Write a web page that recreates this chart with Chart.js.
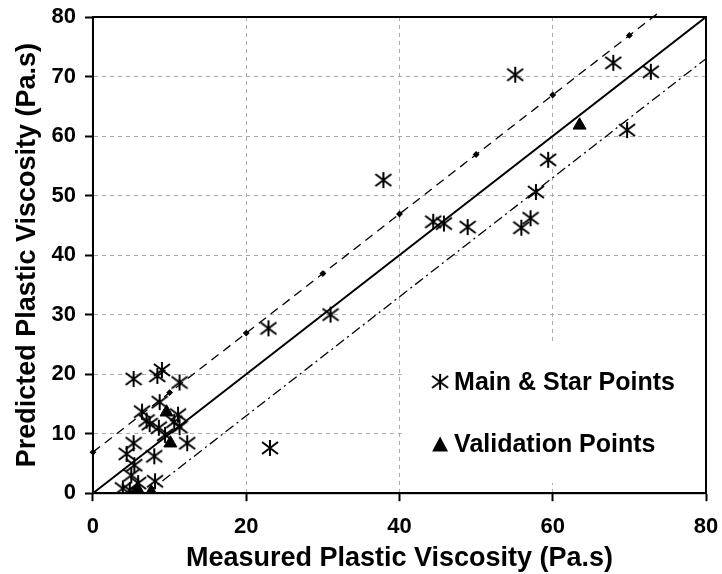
<!DOCTYPE html>
<html>
<head>
<meta charset="utf-8">
<script src="https://cdn.jsdelivr.net/npm/chart.js@4.4.0/dist/chart.umd.min.js"></script>
<style>
html, body { margin: 0; padding: 0; background: #fff; }
#wrap { width: 722px; height: 574px; }
</style>
</head>
<body>
<div id="wrap"><canvas id="testchart"></canvas></div>
<script>
// Main & star points (measured, predicted)
const mainX = [5.3, 8.4, 9.0, 11.3, 8.7, 6.4, 7.0, 7.4, 8.6, 11.1, 11.3, 10.6, 9.4, 12.3, 5.3, 4.4, 8.0, 5.4, 5.0, 8.1, 3.9, 5.9, 4.8,
               23.1, 22.9, 31.0, 37.9, 44.4, 45.8, 48.9, 55.9, 57.1, 57.8, 59.4, 55.1, 67.9, 72.8, 69.7];
const mainY = [19.2, 19.7, 20.7, 18.6, 15.3, 13.7, 12.2, 11.6, 11.0, 13.2, 11.1, 12.0, 9.8, 8.4, 8.4, 6.6, 6.2, 4.7, 3.0, 2.0, 0.8, 1.7, 0.5,
               7.6, 27.7, 30.0, 52.6, 45.6, 45.3, 44.7, 44.6, 46.2, 50.6, 56.0, 70.3, 72.3, 70.8, 61.0];
// Validation points
const validX = [9.6, 10.1, 5.8, 7.6, 63.5];
const validY = [13.6, 8.4, 0.7, 0.2, 61.8];
// line of equality and the two bounds
const fitX = [0, 80];
const fitY = [0, 80];
const upperX = [0, 10, 20, 30, 40, 50, 60, 70, 74];
const upperY = [6.9, 16.9, 26.9, 36.9, 46.9, 56.9, 66.9, 76.9, 80.9];
const lowerX = [7, 80];
const lowerY = [0, 73];
const legendLabels = ['Main & Star Points', 'Validation Points'];
const xTitle = 'Measured Plastic Viscosity (Pa.s)';
const yTitle = 'Predicted Plastic Viscosity (Pa.s)';

function toPoints(xs, ys) {
    return xs.map((x, i) => ({x: x, y: ys[i]}));
}

function makeStar(size) {
    const c = document.createElement('canvas');
    c.width = size;
    c.height = size;
    const g = c.getContext('2d');
    const m = size / 2;
    g.strokeStyle = '#000';
    g.lineWidth = 2;
    g.beginPath();
    g.moveTo(m, 1); g.lineTo(m, size - 1);
    g.moveTo(1, 3); g.lineTo(size - 1, size - 3);
    g.moveTo(1, size - 3); g.lineTo(size - 1, 3);
    g.stroke();
    return c;
}
const star = makeStar(18);
const font = "'Liberation Sans', Arial, sans-serif";

const framePlugin = {
    id: 'frame',
    beforeDatasetsDraw(chart) {
        // white box behind the legend hides the grid
        const xs = chart.scales.x, ys = chart.scales.y;
        const ctx = chart.ctx;
        const l = xs.getPixelForValue(40.5), r = xs.getPixelForValue(80);
        const t = ys.getPixelForValue(25), b = ys.getPixelForValue(1.7);
        ctx.save();
        ctx.fillStyle = '#fff';
        ctx.fillRect(l, t, r - l, b - t);
        ctx.restore();
    },
    afterDraw(chart) {
        const a = chart.chartArea;
        const ctx = chart.ctx;
        ctx.save();
        ctx.strokeStyle = '#000';
        ctx.lineWidth = 2;
        ctx.strokeRect(a.left, a.top, a.right - a.left, a.bottom - a.top);

        // legend inside plot
        const xs = chart.scales.x, ys = chart.scales.y;
        const mx = xs.getPixelForValue(45.3);
        const ty = [ys.getPixelForValue(18.7), ys.getPixelForValue(8.2)];
        ctx.drawImage(star, mx - 9, ty[0] - 9);
        ctx.fillStyle = '#000';
        ctx.beginPath();
        ctx.moveTo(mx, ty[1] - 8);
        ctx.lineTo(mx + 8, ty[1] + 7);
        ctx.lineTo(mx - 8, ty[1] + 7);
        ctx.closePath();
        ctx.fill();
        ctx.font = 'bold 25px ' + font;
        ctx.textBaseline = 'middle';
        ctx.fillText(legendLabels[0], mx + 14, ty[0] + 1);
        ctx.fillText(legendLabels[1], mx + 14, ty[1] + 1);
        ctx.restore();
    }
};

createChart();

function createChart()
{
    let select = document.getElementById('testchart');
    currentchart = new Chart(select, {
    type: 'scatter',
    data: {
        datasets: [{
            label: legendLabels[0],
            data: toPoints(mainX, mainY),
            pointStyle: star,
            pointRadius: 9
        },
        {
            label: legendLabels[1],
            data: toPoints(validX, validY),
            pointStyle: 'triangle',
            pointRadius: 7.5,
            backgroundColor: '#000',
            borderColor: '#000',
            borderWidth: 1
        },
        {
            label: 'Equality',
            data: toPoints(fitX, fitY),
            showLine: true,
            borderColor: '#000',
            borderWidth: 2,
            pointRadius: 0
        },
        {
            label: 'Upper',
            data: toPoints(upperX, upperY),
            showLine: true,
            clip: false,
            borderColor: '#000',
            borderWidth: 1.3,
            borderDash: [9, 6],
            pointStyle: 'rectRot',
            pointRadius: [2.5, 2.5, 2.5, 2.5, 2.5, 2.5, 2.5, 2.5, 0],
            backgroundColor: '#000'
        },
        {
            label: 'Lower',
            data: toPoints(lowerX, lowerY),
            showLine: true,
            borderColor: '#000',
            borderWidth: 1.3,
            borderDash: [10, 4, 2, 4],
            pointRadius: 0
        }]
    },
    options: {
        maintainAspectRatio: false,
        responsive: true,
        animation: false,
        events: [],
        layout: { padding: { top: 0, right: 0, left: 14.5, bottom: 10 } },
        plugins: { legend: { display: false }, tooltip: { enabled: false } },
        scales: {
            x: {
                type: 'linear',
                min: 0, max: 80,
                afterFit: (s) => { s.paddingRight = 16; s.paddingLeft = 0; },
                ticks: { stepSize: 20, color: '#000', padding: 12.8, font: { family: font, size: 22, weight: 'bold' } },
                grid: { color: '#aaa', lineWidth: 1, tickColor: '#000', tickWidth: 2, tickLength: 8 },
                border: { display: true, color: '#000', width: 2, dash: [4, 4] },
                title: { display: true, text: xTitle, color: '#000', padding: 0,
                         font: { family: font, size: 27, weight: 'bold', lineHeight: 0.4 } }
            },
            y: {
                type: 'linear',
                min: 0, max: 80,
                afterFit: (s) => { s.paddingTop = 17; s.paddingBottom = 0; },
                ticks: { stepSize: 10, color: '#000', padding: 9, font: { family: font, size: 22, weight: 'bold' } },
                grid: { color: '#aaa', lineWidth: 1, tickColor: '#000', tickWidth: 2, tickLength: 8 },
                border: { display: true, color: '#000', width: 2, dash: [4, 4] },
                title: { display: true, text: yTitle, color: '#000', padding: { top: 0, bottom: 1 },
                         font: { family: font, size: 27, weight: 'bold', lineHeight: 1 } }
            }
        }
    },
    plugins: [framePlugin]
    });
}
</script>
</body>
</html>
